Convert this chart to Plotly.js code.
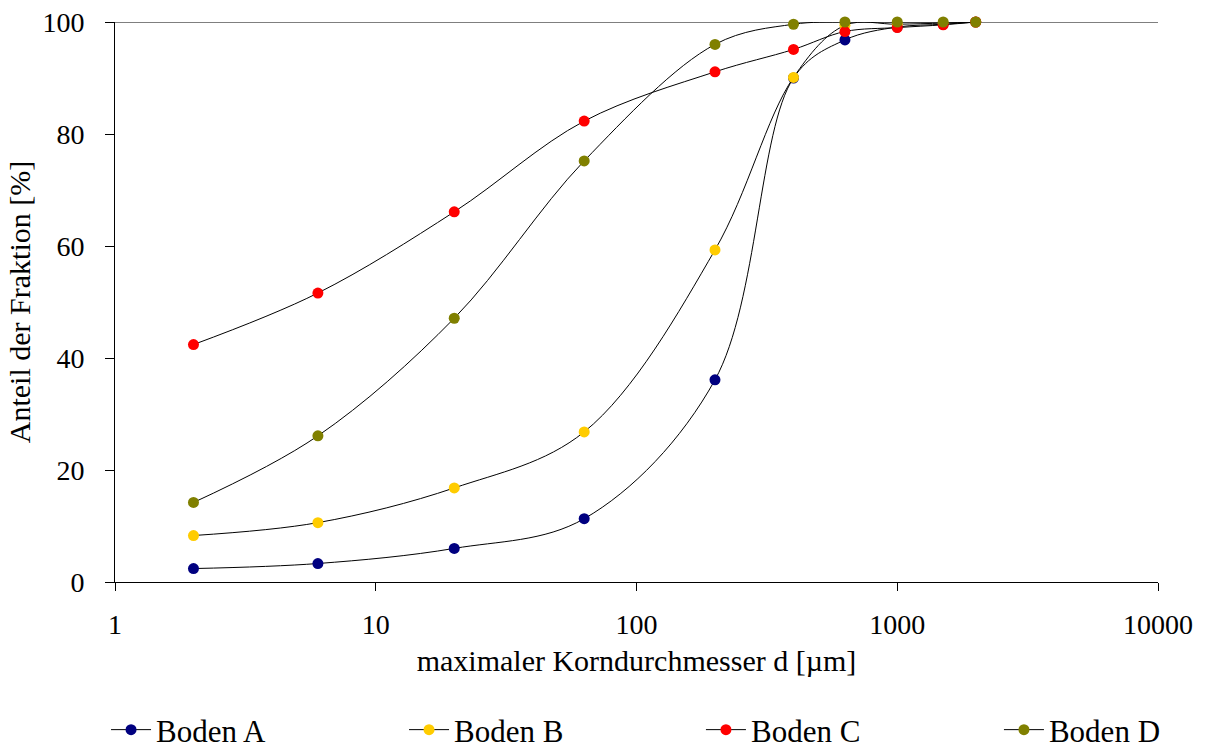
<!DOCTYPE html>
<html>
<head>
<meta charset="utf-8">
<script src="https://cdn.plot.ly/plotly-3.0.1.min.js"></script>
<style>html,body{margin:0;padding:0;background:#fff;}#chart{width:1205px;height:749px;}</style>
</head>
<body>
<div id="chart"></div>
<script>
const korngroesse = [2, 6, 20, 63, 200, 400, 630, 1000, 1500, 2000];
const bodenA = [2.4, 3.3, 6.0, 11.3, 36.1, 90.0, 96.8, 99.1, 99.6, 100];
const bodenB = [8.3, 10.6, 16.8, 26.8, 59.3, 90.1, 99.4, 99.6, 99.8, 100];
const bodenC = [42.4, 51.6, 66.1, 82.3, 91.1, 95.1, 98.3, 99.0, 99.5, 100];
const bodenD = [14.2, 26.1, 47.1, 75.2, 96.0, 99.6, 100, 100, 100, 100];
const seriesNames = ["Boden A", "Boden B", "Boden C", "Boden D"];
const seriesColors = ["#000080", "#FFCC00", "#FF0000", "#808000"];
const xTickVals = [1, 10, 100, 1000, 10000];
const xTickText = ["1", "10", "100", "1000", "10000"];
const yTickVals = [0, 20, 40, 60, 80, 100];

const font = "Liberation Serif, Times New Roman, serif";
const allSeries = [bodenA, bodenB, bodenC, bodenD];
const legendIds = ["legend", "legend2", "legend3", "legend4"];
const legendX = [0.088, 0.3353, 0.5817, 0.829];

const traces = allSeries.map((vals, i) => ({
  x: korngroesse,
  y: vals,
  name: seriesNames[i],
  type: "scatter",
  mode: "lines+markers",
  line: {color: "#000000", width: 1, shape: "spline", smoothing: 1},
  marker: {color: seriesColors[i], size: 11},
  cliponaxis: false,
  legend: legendIds[i]
}));

const layout = {
  width: 1205, height: 749,
  margin: {l: 115, r: 47, t: 22, b: 167},
  paper_bgcolor: "#ffffff", plot_bgcolor: "#ffffff",
  font: {family: font, size: 30, color: "#000"},
  showlegend: true,
  xaxis: {
    type: "log", range: [0, 4],
    tickvals: xTickVals, ticktext: xTickText,
    tickfont: {family: font, size: 28},
    ticks: "outside", ticklen: 8, tickcolor: "#000", tickwidth: 1,
    ticklabelstandoff: 9,
    showline: true, linecolor: "#000", linewidth: 1,
    showgrid: false, zeroline: false,
    title: {text: "maximaler Korndurchmesser d [µm]", font: {family: font, size: 30}, standoff: 11}
  },
  yaxis: {
    range: [0, 100],
    tickvals: yTickVals,
    tickfont: {family: font, size: 28},
    ticks: "outside", ticklen: 9, tickcolor: "#000", tickwidth: 1,
    ticklabelstandoff: 15,
    showline: true, linecolor: "#000", linewidth: 1,
    showgrid: false, zeroline: false,
    title: {text: "Anteil der Fraktion [%]", font: {family: font, size: 30}, standoff: 2}
  },
  shapes: [{type: "line", xref: "paper", yref: "y", x0: 0, x1: 1, y0: 100, y1: 100,
            line: {color: "#555", width: 1.5}, layer: "below"}]
};
legendIds.forEach((id, i) => {
  layout[id] = {orientation: "h", xref: "container", yref: "container",
                x: legendX[i], xanchor: "left", y: 0.0254, yanchor: "middle",
                itemwidth: 40, font: {family: font, size: 31}, bgcolor: "rgba(0,0,0,0)"};
});

Plotly.newPlot("chart", traces, layout, {displayModeBar: false, staticPlot: true});
</script>
</body>
</html>
